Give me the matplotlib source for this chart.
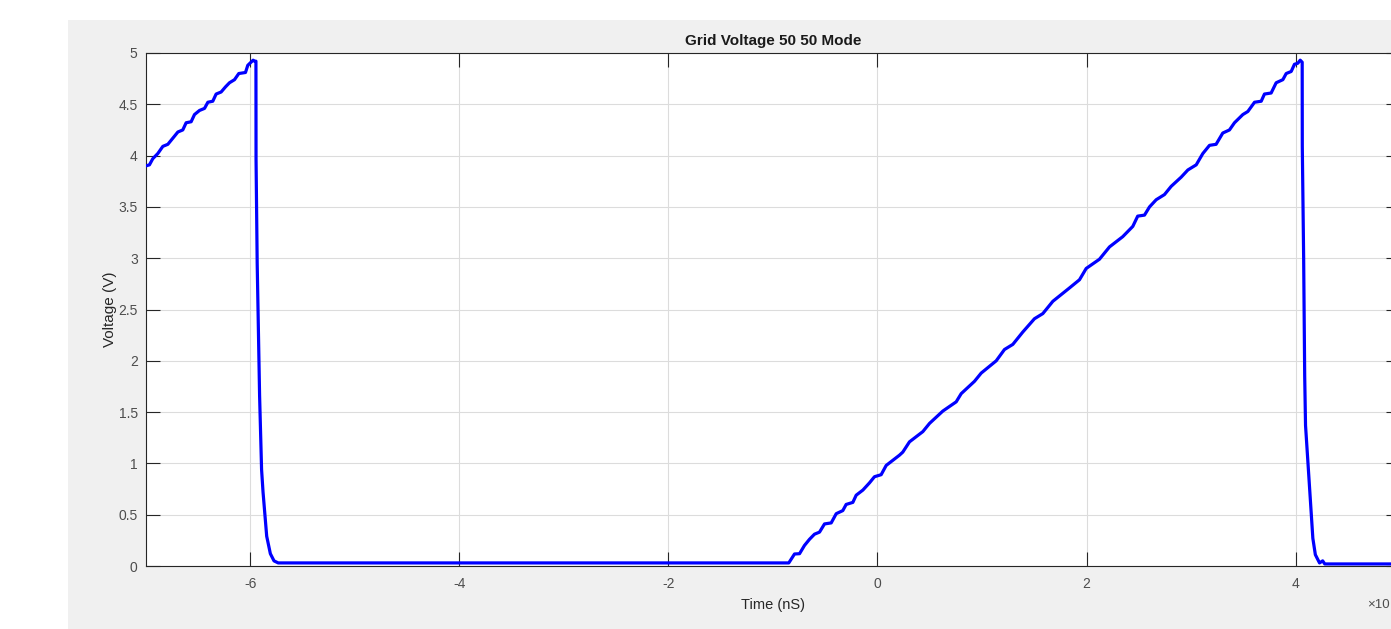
import matplotlib
matplotlib.use("Agg")
import matplotlib.pyplot as plt
from matplotlib.patches import Rectangle

plt.rcParams["font.family"] = ["Liberation Sans", "DejaVu Sans"]

# first ramp (cut at left edge)
t_ramp1 = [-7.0, -6.967, -6.935, -6.887, -6.839, -6.791, -6.743, -6.695, -6.648,
           -6.616, -6.568, -6.536, -6.488, -6.44, -6.408, -6.361, -6.329, -6.281,
           -6.239, -6.201, -6.153, -6.112, -6.048, -6.026, -5.975, -5.96]
v_ramp1 = [3.90, 3.91, 3.97, 4.02, 4.09, 4.11, 4.17, 4.23, 4.25,
           4.32, 4.33, 4.40, 4.44, 4.46, 4.52, 4.53, 4.60, 4.62,
           4.67, 4.71, 4.74, 4.80, 4.81, 4.88, 4.93, 4.92]

# first fall
t_fall1 = [-5.948, -5.947, -5.936, -5.924, -5.913, -5.903, -5.894, -5.88,
           -5.862, -5.845, -5.81, -5.775, -5.735]
v_fall1 = [4.92, 3.97, 2.95, 2.29, 1.66, 1.26, 0.94, 0.72,
           0.50, 0.29, 0.12, 0.05, 0.03]

# flat part
t_flat1 = [-5.5, -4.3, -3.8, -2.4, -0.849]
v_flat1 = [0.03, 0.03, 0.03, 0.03, 0.03]

# second ramp
t_ramp2 = [-0.794, -0.746, -0.699, -0.651, -0.603, -0.555, -0.507, -0.443, -0.395,
           -0.332, -0.30, -0.236, -0.204, -0.14, -0.077, -0.029, 0.035, 0.083,
           0.146, 0.21, 0.242, 0.306, 0.434, 0.498, 0.625, 0.753, 0.801, 0.928,
           0.992, 1.136, 1.215, 1.295, 1.39, 1.502, 1.582, 1.678, 1.837, 1.933,
           1.997, 2.124, 2.22, 2.347, 2.443, 2.49, 2.555, 2.603, 2.667, 2.746,
           2.81, 2.906, 2.97, 3.05, 3.113, 3.177, 3.24, 3.304, 3.368, 3.416,
           3.496, 3.544, 3.608, 3.672, 3.703, 3.767, 3.815, 3.879, 3.911, 3.959,
           3.99, 4.022, 4.045, 4.064]
v_ramp2 = [0.117, 0.12, 0.20, 0.26, 0.31, 0.33, 0.41, 0.42, 0.51,
           0.54, 0.60, 0.62, 0.69, 0.74, 0.81, 0.87, 0.89, 0.98,
           1.03, 1.08, 1.11, 1.21, 1.31, 1.39, 1.51, 1.60, 1.68, 1.80,
           1.88, 2.00, 2.11, 2.16, 2.28, 2.41, 2.46, 2.58, 2.71, 2.79,
           2.90, 2.99, 3.11, 3.21, 3.31, 3.41, 3.42, 3.50, 3.57, 3.62,
           3.70, 3.79, 3.86, 3.91, 4.02, 4.10, 4.11, 4.22, 4.25, 4.32,
           4.40, 4.43, 4.52, 4.53, 4.60, 4.61, 4.71, 4.74, 4.80, 4.82,
           4.89, 4.90, 4.93, 4.91]

# second fall and flat tail
t_fall2 = [4.065, 4.078, 4.088, 4.096, 4.118, 4.134, 4.15, 4.166, 4.19,
           4.23, 4.26, 4.28, 5.0]
v_fall2 = [4.09, 3.0, 1.85, 1.37, 1.02, 0.77, 0.50, 0.27, 0.11,
           0.03, 0.05, 0.02, 0.02]

t = t_ramp1 + t_fall1 + t_flat1 + t_ramp2 + t_fall2
v = v_ramp1 + v_fall1 + v_flat1 + v_ramp2 + v_fall2

xticks = [-6, -4, -2, 0, 2, 4]
yticks = [0, 0.5, 1, 1.5, 2, 2.5, 3, 3.5, 4, 4.5, 5]
ytick_labels = ["0", "0.5", "1", "1.5", "2", "2.5", "3", "3.5", "4", "4.5", "5"]

W, H = 1391, 629
fig = plt.figure(figsize=(W / 100, H / 100), dpi=100, facecolor="white")
bg = Rectangle((68 / W, 0), 1 - 68 / W, (H - 20) / H,
               transform=fig.transFigure, facecolor="#f0f0f0",
               edgecolor="none", zorder=-10)
fig.patches.append(bg)

ax = fig.add_axes([146 / W, (H - 566) / H, (1400 - 146) / W, (566 - 53) / H])
ax.set_zorder(5)
ax.set_facecolor("white")
ax.plot(t, v, color="#0000ff", linewidth=2.3, zorder=3)

ax.set_xlim(-7, 5)
ax.set_ylim(0, 5)
ax.set_xticks(xticks)
ax.set_xticklabels([str(x) for x in xticks])
ax.set_yticks(yticks)
ax.set_yticklabels(ytick_labels)
ax.grid(True, color="#dcdcdc", linewidth=0.8)
ax.set_axisbelow(True)

ax.tick_params(direction="in", length=10, width=0.8, colors="#262626",
               labelsize=10, top=True, right=True, labelcolor="#4d4d4d")
ax.tick_params(axis="x", pad=8)
ax.tick_params(axis="y", pad=6)
for s in ax.spines.values():
    s.set_color("#262626")
    s.set_linewidth(0.8)

ax.set_title("Grid Voltage 50 50 Mode", fontsize=11, fontweight="bold",
             color="#1a1a1a", pad=6)
ax.set_xlabel("Time (nS)", fontsize=10.5, color="#262626", labelpad=5)
ax.set_ylabel("Voltage (V)", fontsize=11, color="#262626", labelpad=1)

fig.text(1367 / W, 1 - 605 / H, "×10", fontsize=9.5, color="#4d4d4d",
         va="center", ha="left", zorder=6)

fig.savefig("out.png", dpi=100, facecolor=fig.get_facecolor())
